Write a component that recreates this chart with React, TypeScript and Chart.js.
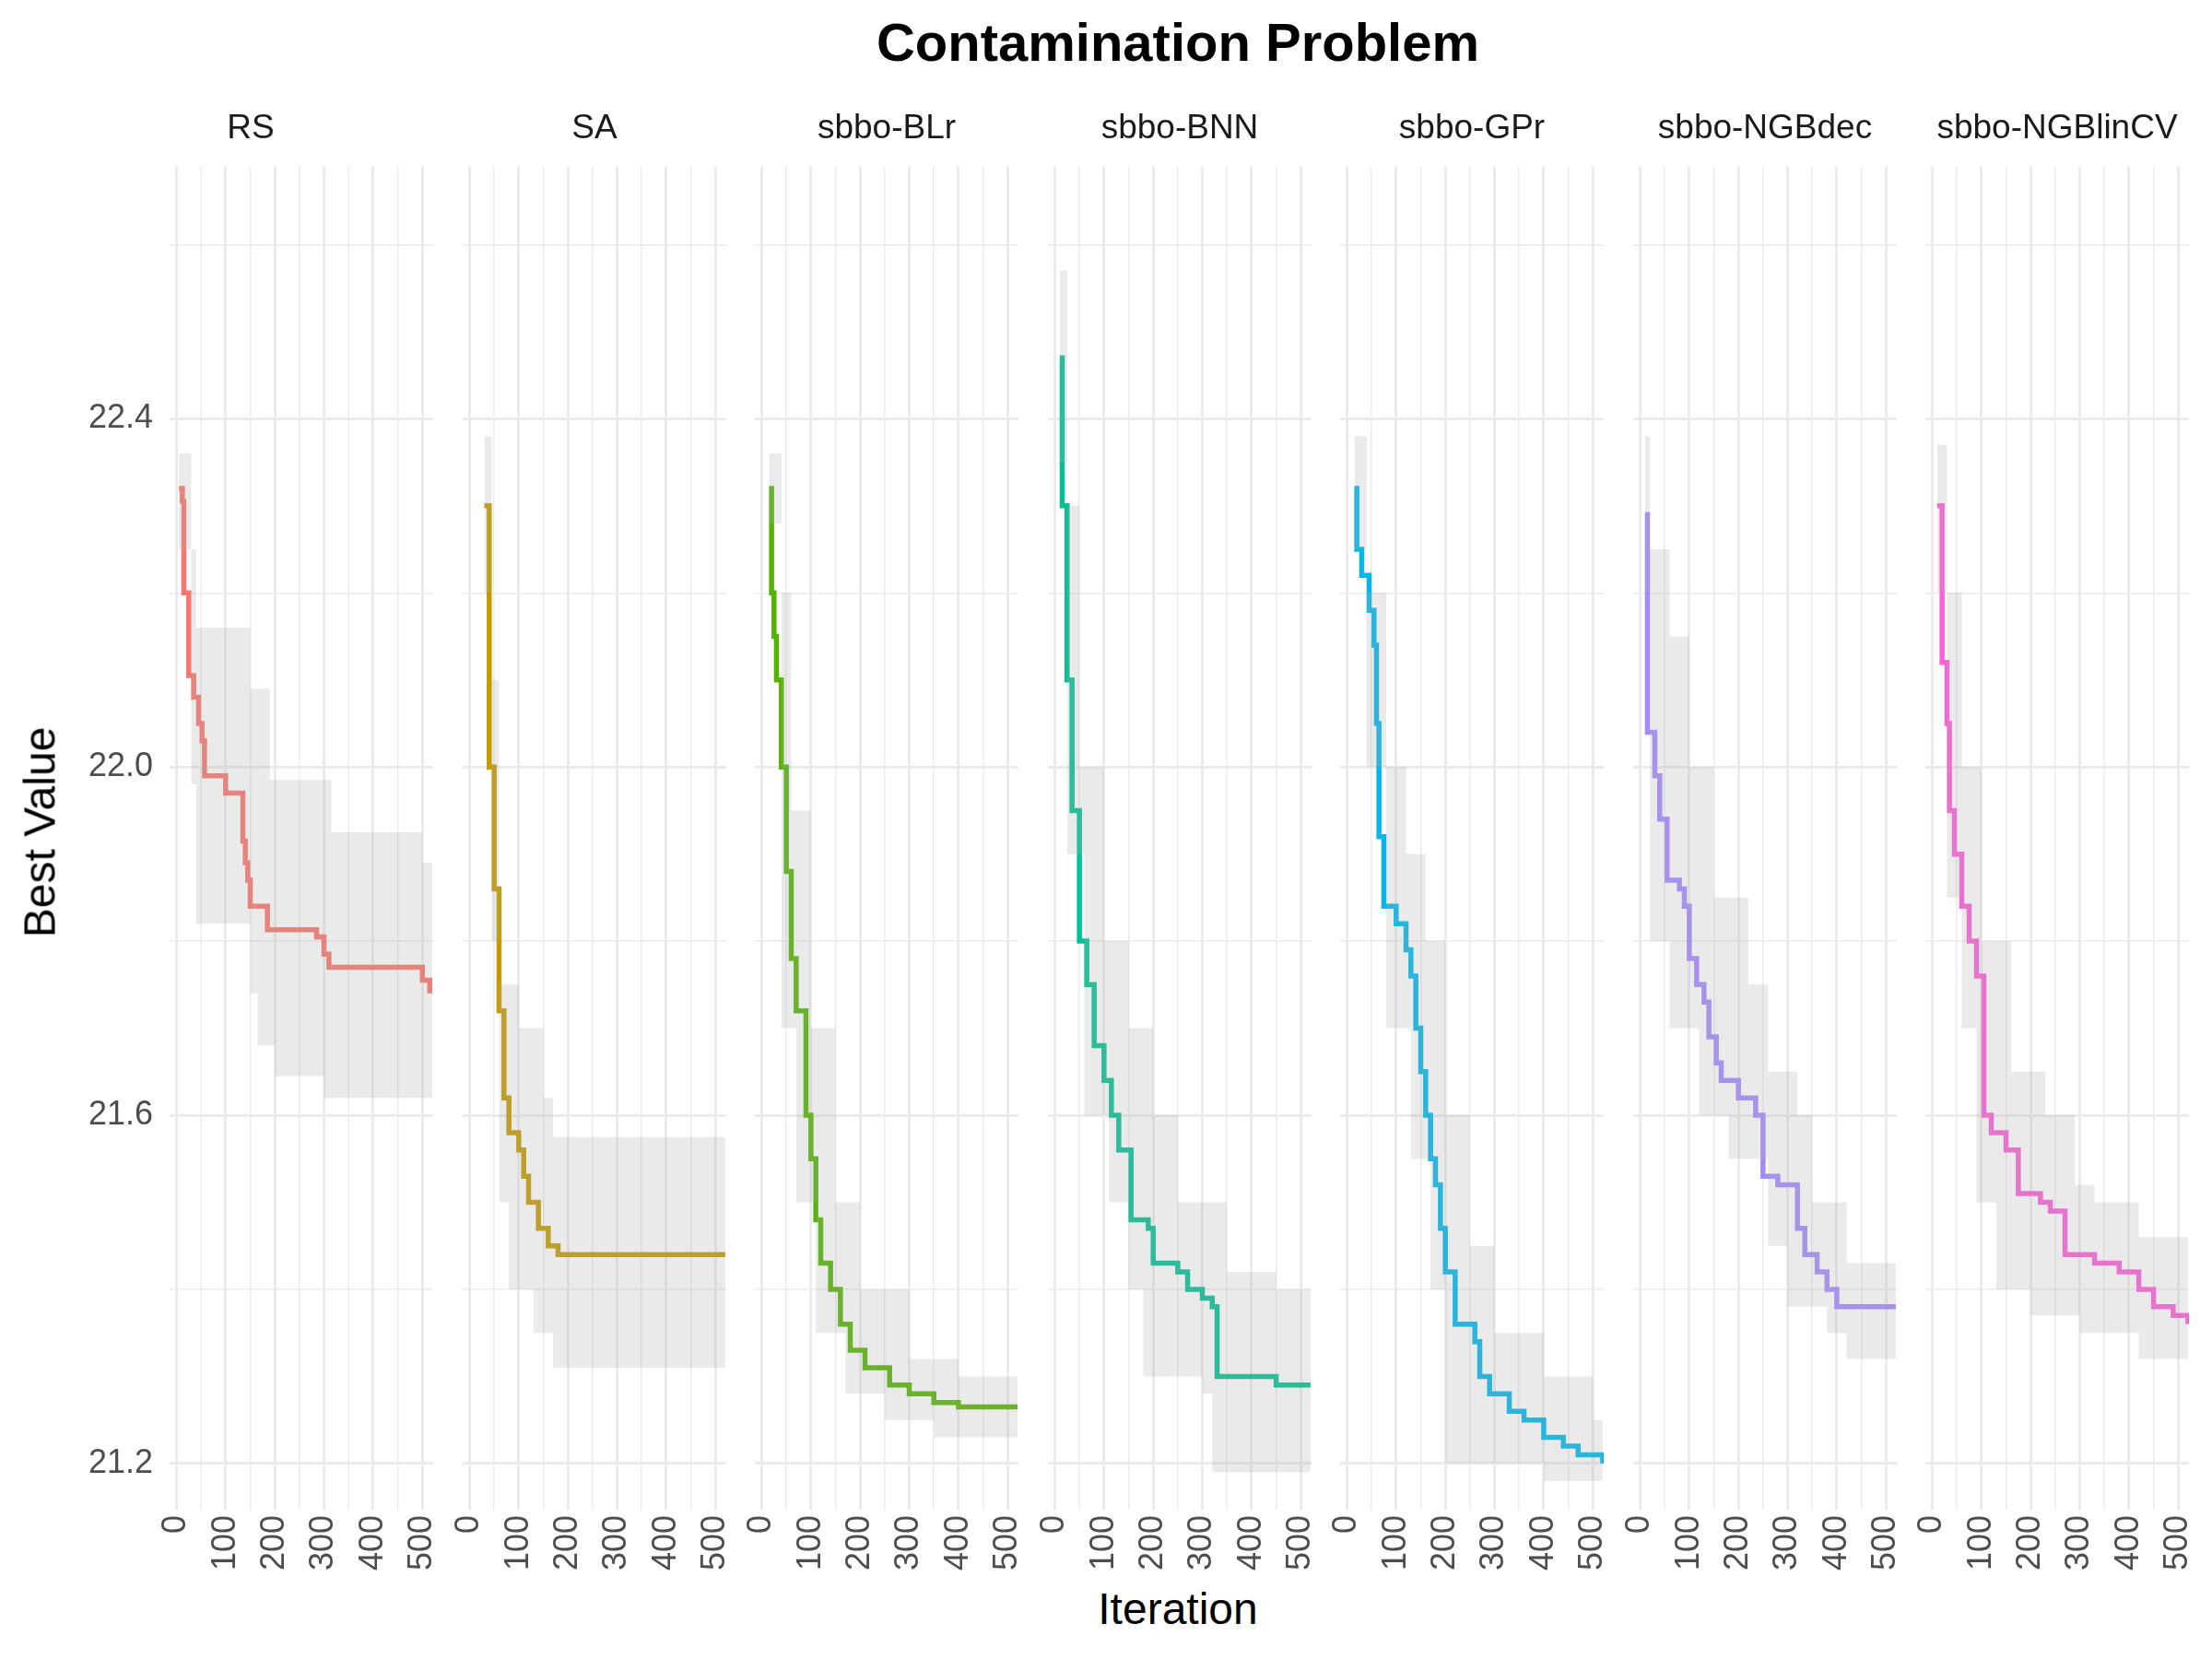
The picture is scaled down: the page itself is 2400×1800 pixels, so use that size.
import { useEffect, useRef } from 'react'
import { Chart, registerables } from 'chart.js'

Chart.register(...registerables)

// ─── Data ───────────────────────────────────────────────────────────────────

const methods = ['RS', 'SA', 'sbbo-BLr', 'sbbo-BNN', 'sbbo-GPr', 'sbbo-NGBdec', 'sbbo-NGBlinCV']
const colors  = ['#F8766D', '#C49A00', '#53B400', '#00C094', '#00B6EB', '#A58AFF', '#FB61D7']

const yTicks = [21.2, 21.4, 21.6, 21.8, 22.0, 22.2, 22.4, 22.6]
const yLabelled = [21.2, 21.6, 22.0, 22.4]
const xTicks = [0, 50, 100, 150, 200, 250, 300, 350, 400, 450, 500]

// best-value lines
const rsIter = [5, 12, 15, 25, 35, 45, 52, 57, 100, 135, 140, 145, 150, 185, 285, 300, 310, 500, 515]
const rsBest = [22.32, 22.305, 22.2, 22.105, 22.08, 22.05, 22.03, 21.99, 21.97, 21.915, 21.89, 21.87, 21.84, 21.813, 21.805, 21.785, 21.77, 21.755, 21.74]
const saIter = [30, 40, 50, 60, 70, 80, 100, 110, 120, 140, 160, 180, 520]
const saBest = [22.3, 22.0, 21.86, 21.72, 21.62, 21.58, 21.56, 21.53, 21.5, 21.47, 21.45, 21.44, 21.44]
const blrIter = [15, 20, 25, 30, 40, 50, 60, 70, 90, 100, 110, 120, 140, 160, 180, 210, 260, 300, 350, 400, 520]
const blrBest = [22.32, 22.2, 22.15, 22.1, 22.0, 21.88, 21.78, 21.72, 21.6, 21.55, 21.48, 21.43, 21.4, 21.36, 21.33, 21.31, 21.29, 21.28, 21.27, 21.265, 21.265]
const bnnIter = [10, 15, 25, 35, 50, 65, 80, 100, 115, 130, 155, 190, 200, 250, 270, 300, 320, 330, 450, 520]
const bnnBest = [22.47, 22.3, 22.1, 21.95, 21.8, 21.75, 21.68, 21.64, 21.6, 21.56, 21.48, 21.47, 21.43, 21.42, 21.4, 21.39, 21.38, 21.3, 21.29, 21.29]
const gprIter = [15, 20, 30, 45, 55, 60, 65, 75, 100, 120, 130, 140, 150, 160, 170, 180, 190, 200, 220, 260, 270, 290, 330, 360, 400, 440, 470, 520]
const gprBest = [22.32, 22.25, 22.22, 22.18, 22.14, 22.05, 21.92, 21.84, 21.82, 21.79, 21.76, 21.7, 21.65, 21.6, 21.55, 21.52, 21.47, 21.42, 21.36, 21.34, 21.3, 21.28, 21.26, 21.25, 21.23, 21.22, 21.21, 21.2]
const decIter = [10, 15, 30, 40, 55, 80, 90, 100, 115, 130, 140, 155, 165, 200, 235, 250, 280, 320, 335, 360, 380, 400, 520]
const decBest = [22.29, 22.04, 21.99, 21.94, 21.87, 21.86, 21.84, 21.78, 21.75, 21.73, 21.69, 21.66, 21.64, 21.62, 21.6, 21.53, 21.52, 21.47, 21.44, 21.42, 21.4, 21.38, 21.38]
const linIter = [10, 20, 30, 35, 45, 60, 75, 90, 105, 120, 150, 175, 220, 240, 270, 330, 380, 420, 450, 490, 520]
const linBest = [22.3, 22.12, 22.05, 21.95, 21.9, 21.84, 21.8, 21.76, 21.6, 21.58, 21.56, 21.51, 21.5, 21.49, 21.44, 21.43, 21.42, 21.4, 21.38, 21.37, 21.36]

// grey bands (upper / lower share the iteration grid)
const rsBandIter = [5, 30, 40, 140, 150, 165, 190, 200, 300, 315, 500, 520]
const rsUpper = [22.36, 22.25, 22.16, 22.16, 22.09, 22.09, 21.985, 21.985, 21.985, 21.925, 21.89, 21.89]
const rsLower = [22.25, 21.98, 21.82, 21.82, 21.74, 21.68, 21.68, 21.645, 21.62, 21.62, 21.62, 21.62]
const saBandIter = [30, 45, 60, 80, 100, 130, 150, 170, 520]
const saUpper = [22.38, 22.1, 21.75, 21.75, 21.7, 21.7, 21.62, 21.575, 21.575]
const saLower = [22.2, 21.8, 21.5, 21.4, 21.4, 21.35, 21.35, 21.31, 21.31]
const blrBandIter = [15, 40, 60, 70, 100, 110, 150, 170, 200, 250, 300, 350, 400, 520]
const blrUpper = [22.36, 22.2, 21.95, 21.95, 21.7, 21.7, 21.5, 21.5, 21.4, 21.4, 21.32, 21.32, 21.3, 21.3]
const blrLower = [22.28, 21.7, 21.7, 21.5, 21.5, 21.35, 21.35, 21.28, 21.28, 21.25, 21.25, 21.23, 21.23, 21.23]
const bnnBandIter = [10, 25, 50, 60, 100, 110, 150, 180, 200, 250, 300, 320, 350, 450, 520]
const bnnUpper = [22.57, 22.3, 22.0, 22.0, 21.8, 21.8, 21.7, 21.7, 21.6, 21.5, 21.5, 21.5, 21.42, 21.4, 21.4]
const bnnLower = [22.35, 21.9, 21.9, 21.6, 21.6, 21.5, 21.4, 21.3, 21.3, 21.3, 21.28, 21.19, 21.19, 21.19, 21.19]
const gprBandIter = [15, 40, 80, 120, 130, 160, 170, 200, 250, 300, 400, 500, 520]
const gprUpper = [22.38, 22.2, 22.0, 21.9, 21.9, 21.8, 21.8, 21.6, 21.45, 21.35, 21.3, 21.25, 21.25]
const gprLower = [22.25, 22.0, 21.7, 21.7, 21.55, 21.55, 21.4, 21.2, 21.2, 21.2, 21.18, 21.18, 21.18]
const decBandIter = [10, 20, 60, 100, 120, 150, 180, 220, 260, 300, 320, 350, 380, 420, 520]
const decUpper = [22.38, 22.25, 22.15, 22.0, 22.0, 21.85, 21.85, 21.75, 21.65, 21.65, 21.6, 21.5, 21.5, 21.43, 21.43]
const decLower = [22.2, 21.8, 21.7, 21.7, 21.6, 21.6, 21.55, 21.55, 21.45, 21.38, 21.38, 21.38, 21.35, 21.32, 21.32]
const linBandIter = [10, 30, 60, 90, 100, 130, 160, 200, 230, 290, 300, 330, 420, 520]
const linUpper = [22.37, 22.2, 22.0, 22.0, 21.8, 21.8, 21.65, 21.65, 21.6, 21.52, 21.52, 21.5, 21.46, 21.45]
const linLower = [22.2, 21.85, 21.7, 21.5, 21.5, 21.4, 21.4, 21.37, 21.37, 21.37, 21.35, 21.35, 21.32, 21.28]

const lineIters  = [rsIter, saIter, blrIter, bnnIter, gprIter, decIter, linIter]
const lineValues = [rsBest, saBest, blrBest, bnnBest, gprBest, decBest, linBest]
const bandIters  = [rsBandIter, saBandIter, blrBandIter, bnnBandIter, gprBandIter, decBandIter, linBandIter]
const bandUppers = [rsUpper, saUpper, blrUpper, bnnUpper, gprUpper, decUpper, linUpper]
const bandLowers = [rsLower, saLower, blrLower, bnnLower, gprLower, decLower, linLower]

// ─── Layout ─────────────────────────────────────────────────────────────────

const FONT = '"Liberation Sans", Arial, sans-serif'
const PANEL_W    = 286
const PANEL_GAP  = 31.5
const FIRST_LEFT = 184
const Y_AXIS_W   = 110
const SIDE_PAD   = 24     // room for rotated edge labels
const CANVAS_TOP = 118
const CANVAS_H   = 1592

const pts = (xs: number[], ys: number[]) => xs.map((x, i) => ({ x, y: ys[i] }))

function Panel({ idx }: { idx: number }) {
  const canvasRef = useRef<HTMLCanvasElement>(null)
  const first = idx === 0
  const extra = first ? Y_AXIS_W : 0
  const left = FIRST_LEFT + idx * (PANEL_W + PANEL_GAP) - extra - SIDE_PAD
  const width = PANEL_W + extra + 2 * SIDE_PAD

  useEffect(() => {
    const ctx = canvasRef.current!.getContext('2d')!
    const chart = new Chart(ctx, {
      type: 'line',
      data: {
        datasets: [
          { data: pts(bandIters[idx], bandLowers[idx]), stepped: true, borderWidth: 0, pointRadius: 0, fill: false, borderColor: 'transparent' },
          { data: pts(bandIters[idx], bandUppers[idx]), stepped: true, borderWidth: 0, pointRadius: 0, fill: '-1', borderColor: 'transparent', backgroundColor: 'rgba(175,175,175,0.26)' },
          { data: pts(lineIters[idx], lineValues[idx]), stepped: true, borderWidth: 5.5, pointRadius: 0, borderColor: colors[idx], fill: false },
        ],
      },
      options: {
        animation: false,
        responsive: false,
        maintainAspectRatio: false,
        layout: { padding: { left: SIDE_PAD, right: SIDE_PAD, top: 0, bottom: 0 } },
        plugins: {
          legend: { display: false },
          tooltip: { enabled: false },
          title: {
            display: true,
            text: methods[idx],
            color: '#1A1A1A',
            font: { family: FONT, size: 37, weight: 'normal' },
            padding: { top: 0, bottom: 18 },
            align: 'center',
          },
        },
        scales: {
          x: {
            type: 'linear',
            min: -14,
            max: 522,
            afterBuildTicks: (s: any) => { s.ticks = xTicks.map(v => ({ value: v })) },
            afterFit: (s: any) => { s.paddingLeft = 0; s.paddingRight = 0 },
            ticks: {
              color: '#4D4D4D',
              font: { family: FONT, size: 36 },
              maxRotation: 90,
              minRotation: 90,
              autoSkip: false,
              padding: 6,
              callback: (v: any) => (v % 100 === 0 ? String(v) : ''),
            },
            grid: {
              color: '#EBEBEB',
              lineWidth: (c: any) => (c.tick && c.tick.value % 100 === 0 ? 3 : 1.5),
              drawTicks: false,
            },
            border: { display: false },
          },
          y: {
            type: 'linear',
            min: 21.147,
            max: 22.69,
            afterBuildTicks: (s: any) => { s.ticks = yTicks.map(v => ({ value: v })) },
            afterFit: (s: any) => { s.width = first ? Y_AXIS_W : 0 },
            ticks: {
              display: first,
              color: '#4D4D4D',
              font: { family: FONT, size: 36 },
              padding: 18,
              callback: (v: any) => (yLabelled.some(l => Math.abs(l - v) < 1e-6) ? Number(v).toFixed(1) : ''),
            },
            grid: {
              color: '#EBEBEB',
              lineWidth: (c: any) => (c.tick && yLabelled.some(l => Math.abs(l - c.tick.value) < 1e-6) ? 3 : 1.5),
              drawTicks: false,
            },
            border: { display: false },
          },
        },
      },
    })
    return () => chart.destroy()
  }, [idx])

  return (
    <canvas
      ref={canvasRef}
      width={width}
      height={CANVAS_H}
      style={{ position: 'absolute', left, top: CANVAS_TOP, width, height: CANVAS_H }}
    />
  )
}

export default function App() {
  useEffect(() => { document.body.style.margin = '0' }, [])
  return (
    <div style={{ position: 'relative', width: 2400, height: 1800, background: '#fff', fontFamily: FONT }}>
      <div style={{ position: 'absolute', left: 0, width: 2556, top: 12, textAlign: 'center', fontSize: 58, fontWeight: 'bold', color: '#000' }}>
        Contamination Problem
      </div>
      {methods.map((_, i) => <Panel key={i} idx={i} />)}
      <div style={{ position: 'absolute', left: 0, width: 2556, top: 1718, textAlign: 'center', fontSize: 48, color: '#000' }}>
        Iteration
      </div>
      <div style={{ position: 'absolute', left: 43, top: 903, transform: 'translate(-50%,-50%) rotate(-90deg)', fontSize: 48, whiteSpace: 'nowrap', color: '#000' }}>
        Best Value
      </div>
    </div>
  )
}
